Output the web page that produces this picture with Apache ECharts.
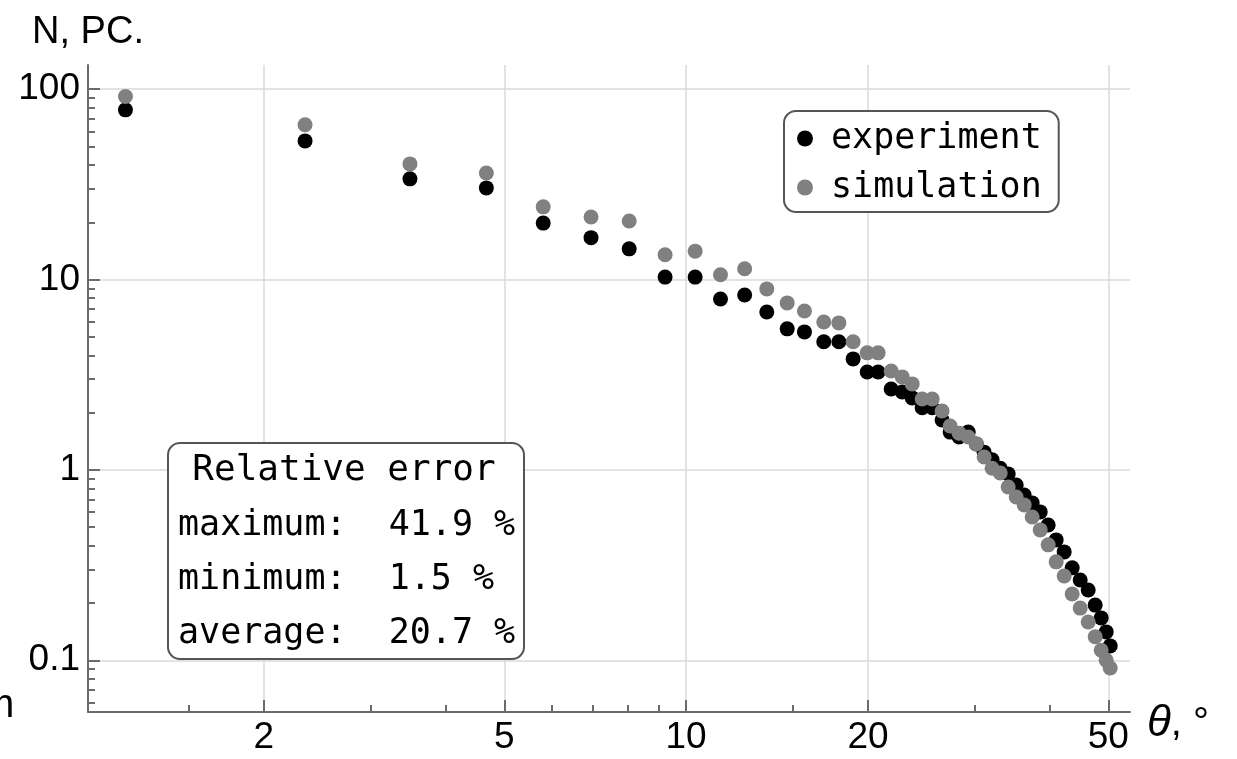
<!DOCTYPE html>
<html><head><meta charset="utf-8">
<script src="https://cdn.jsdelivr.net/npm/echarts@6/dist/echarts.min.js"></script>
<style>html,body{margin:0;padding:0;background:#fff}#c{width:1237px;height:759px}</style>
</head><body><div id="c"></div>
<script>
// scattering angle θ, degrees (shared by both series)
const angles = [1.18, 2.34, 3.49, 4.67, 5.80, 6.96, 8.05, 9.23, 10.35, 11.4, 12.5, 13.6, 14.7, 15.7, 16.9, 17.9, 18.9,
  19.94, 20.79, 21.85, 22.79, 23.67, 24.59, 25.55, 26.53, 27.36, 28.31, 29.31, 30.22, 31.14, 32.10, 33.11, 34.13,
  35.19, 36.28, 37.40, 38.56, 39.75, 40.98, 42.25, 43.56, 44.91, 46.30, 47.55, 48.65, 49.59, 50.35];
const experiment = [77.9, 53.5, 33.8, 30.3, 19.8, 16.6, 14.5, 10.3, 10.3, 7.91, 8.3, 6.76, 5.51, 5.31, 4.71, 4.71, 3.83,
  3.27, 3.27, 2.66, 2.57, 2.39, 2.12, 2.12, 1.83, 1.58, 1.49, 1.58, 1.37, 1.24, 1.13, 1.02, 0.953,
  0.834, 0.739, 0.671, 0.602, 0.514, 0.429, 0.371, 0.306, 0.264, 0.234, 0.195, 0.167, 0.141, 0.119];
const simulation = [91.5, 65.0, 40.5, 36.3, 24.1, 21.3, 20.3, 13.5, 14.1, 10.6, 11.4, 8.93, 7.54, 6.84, 5.99, 5.92, 4.71,
  4.12, 4.12, 3.31, 3.08, 2.83, 2.36, 2.36, 2.04, 1.70, 1.56, 1.49, 1.37, 1.17, 1.02, 0.964, 0.814,
  0.721, 0.655, 0.566, 0.484, 0.404, 0.329, 0.277, 0.223, 0.188, 0.159, 0.133, 0.113, 0.100, 0.0911];

const seriesNames = ['experiment', 'simulation'];
const xMajorTicks = [2, 5, 10, 20, 50];
const xMinorTicks = [1.5, 3, 4, 6, 7, 8, 9, 15, 30, 40];
const yMajorTicks = [0.1, 1, 10, 100];
const yMinorTicks = [0.06, 0.07, 0.08, 0.09, 0.2, 0.3, 0.4, 0.5, 0.6, 0.7, 0.8, 0.9,
  2, 3, 4, 5, 6, 7, 8, 9, 20, 30, 40, 50, 60, 70, 80, 90];
const xNameSymbol = 'θ';
const xNameRest = ', °';
const yName = 'N, PC.';
const errorTitle = 'Relative error';
const errorLines = ['maximum:  41.9 %', 'minimum:  1.5 %', 'average:  20.7 %'];

const X_MIN = 1.023, X_MAX = 54.3, Y_MIN = 0.0535, Y_MAX = 134;
const AX = '#6b6b6b', GRIDC = '#dadada';
const SANS = '"Liberation Sans", Arial, sans-serif';
const MONO = '"DejaVu Sans Mono", monospace';

const chart = echarts.init(document.getElementById('c'), null, {renderer: 'canvas'});

function zip(xs, ys) { return xs.map((x, i) => [x, ys[i]]); }

const option = {
  animation: false,
  backgroundColor: '#fff',
  grid: {left: 88, right: 107, top: 65, bottom: 47},
  legend: {
    orient: 'vertical', left: 784, top: 111,
    padding: [6, 17, 3, 13], itemGap: 6, itemWidth: 16, itemHeight: 16, icon: 'circle',
    borderColor: '#555', borderWidth: 2, borderRadius: 12, backgroundColor: '#fff',
    textStyle: {fontFamily: MONO, fontSize: 35, color: '#000', padding: [0, 0, 0, 13], lineHeight: 43},
    data: seriesNames
  },
  xAxis: [
    {
      type: 'log', logBase: 10, min: X_MIN, max: X_MAX, position: 'bottom',
      name: '{t|' + xNameSymbol + '}{r|' + xNameRest + '}', nameLocation: 'end', nameGap: 17,
      nameTextStyle: {padding: [24, 0, 0, 0],
        rich: {t: {fontSize: 44, fontFamily: SANS, fontStyle: 'italic', color: '#000'},
               r: {fontSize: 40, fontFamily: SANS, color: '#000'}}},
      axisLine: {show: true, onZero: false, lineStyle: {color: AX, width: 2}},
      axisTick: {show: true, inside: true, length: 12, lineStyle: {color: AX, width: 2}, customValues: xMajorTicks},
      axisLabel: {customValues: xMajorTicks, fontSize: 37, fontFamily: SANS, color: '#000', margin: 7},
      splitLine: {show: true, lineStyle: {color: GRIDC, width: 1.5}}
    },
    {
      type: 'log', logBase: 10, min: X_MIN, max: X_MAX, position: 'bottom', gridIndex: 0,
      axisLine: {show: false},
      axisTick: {show: true, inside: true, length: 7, lineStyle: {color: AX, width: 2}, customValues: xMinorTicks},
      axisLabel: {show: false},
      splitLine: {show: false}
    }
  ],
  yAxis: [
    {
      type: 'log', logBase: 10, min: Y_MIN, max: Y_MAX, position: 'left',
      name: yName, nameLocation: 'end', nameGap: 13,
      nameTextStyle: {fontSize: 38, fontFamily: SANS, color: '#000'},
      axisLine: {show: true, onZero: false, lineStyle: {color: AX, width: 2}},
      axisTick: {show: true, inside: true, length: 12, lineStyle: {color: AX, width: 2}, customValues: yMajorTicks},
      axisLabel: {customValues: yMajorTicks, fontSize: 37, fontFamily: SANS, color: '#000', margin: 8,
        formatter: v => String(+v.toPrecision(6))},
      splitLine: {show: true, lineStyle: {color: GRIDC, width: 1.5}}
    },
    {
      type: 'log', logBase: 10, min: Y_MIN, max: Y_MAX, position: 'left', gridIndex: 0,
      axisLine: {show: false},
      axisTick: {show: true, inside: true, length: 7, lineStyle: {color: AX, width: 2}, customValues: yMinorTicks},
      axisLabel: {show: false},
      splitLine: {show: false}
    }
  ],
  series: [
    {name: seriesNames[0], type: 'scatter', xAxisIndex: 0, yAxisIndex: 0, symbolSize: 15,
      itemStyle: {color: '#000', opacity: 1}, data: zip(angles, experiment), z: 3},
    {name: seriesNames[1], type: 'scatter', xAxisIndex: 0, yAxisIndex: 0, symbolSize: 15,
      itemStyle: {color: '#808080', opacity: 1}, data: zip(angles, simulation), z: 4}
  ],
  graphic: [
    {type: 'text', left: -19, top: 686, style: {text: 'm', font: '40px ' + SANS, fill: '#000'}},
    {
      type: 'group', left: 167, top: 442,
      children: [
        {type: 'rect', z: 100, shape: {x: 0, y: 0, width: 356, height: 216, r: 12},
          style: {fill: '#fff', stroke: '#555', lineWidth: 2}},
        {type: 'text', z: 101, x: 176, y: 28, style: {text: errorTitle, font: '36px ' + MONO, fill: '#000',
          textAlign: 'center', textVerticalAlign: 'middle'}},
        {type: 'text', z: 101, x: 10, y: 83, style: {text: errorLines[0], font: '35px ' + MONO, fill: '#000',
          textAlign: 'left', textVerticalAlign: 'middle'}},
        {type: 'text', z: 101, x: 10, y: 137, style: {text: errorLines[1], font: '35px ' + MONO, fill: '#000',
          textAlign: 'left', textVerticalAlign: 'middle'}},
        {type: 'text', z: 101, x: 10, y: 191, style: {text: errorLines[2], font: '35px ' + MONO, fill: '#000',
          textAlign: 'left', textVerticalAlign: 'middle'}}
      ]
    }
  ]
};
chart.setOption(option);
</script>
</body></html>
